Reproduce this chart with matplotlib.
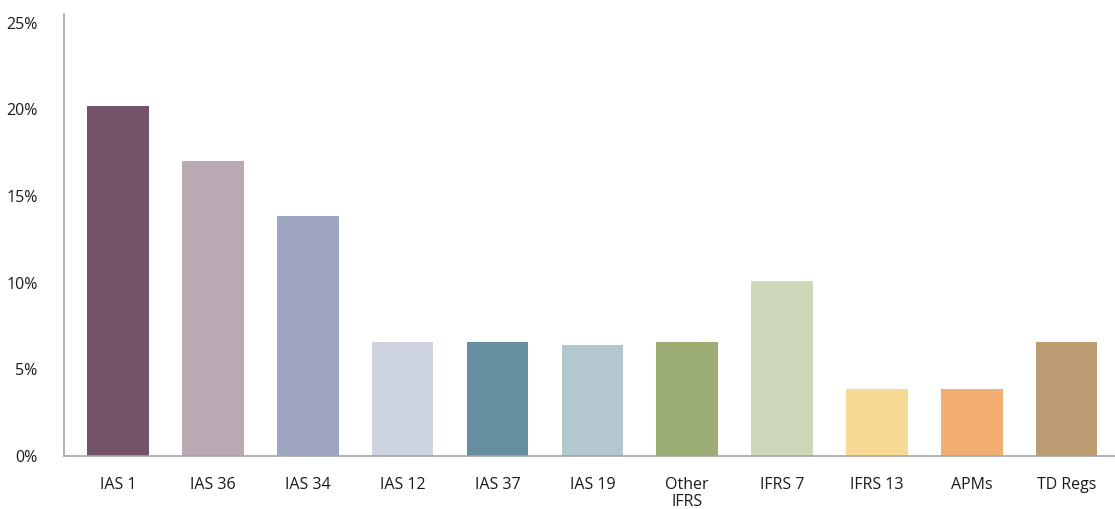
import matplotlib.pyplot as plt
import numpy as np

plt.rcParams['font.family'] = ['Open Sans', 'DejaVu Sans']

# standards and share of findings (%)
categories = ["IAS 1", "IAS 36", "IAS 34", "IAS 12", "IAS 37", "IAS 19",
              "Other\nIFRS", "IFRS 7", "IFRS 13", "APMs", "TD Regs"]
values = [20.2, 17.0, 13.85, 6.6, 6.6, 6.4, 6.6, 10.1, 3.87, 3.87, 6.6]
colors = ["#735368", "#b8a9b3", "#9ea6c4", "#cdd3e0", "#668fa2", "#b3c7cf",
          "#9bad72", "#ced8b9", "#f7da94", "#f2ad70", "#bc9c73"]
yticks = [0, 5, 10, 15, 20, 25]

fig = plt.figure(figsize=(11.15, 5.09), dpi=100)
ax = fig.add_axes([64/1115, 1-456/509, 1-64/1115, (456-14)/509])

x = np.arange(len(categories))
ax.bar(x, values, width=0.65, color=colors)

ax.set_xlim(-0.57, len(categories) - 0.49)
ax.set_ylim(0, 25.5)
ax.set_yticks(yticks)
ax.set_yticklabels([f"{t}%" for t in yticks])
ax.set_xticks(x)
ax.set_xticklabels(categories, va="top", linespacing=1.1)
ax.tick_params(axis="both", length=0, labelsize=11.5, colors="#1a1a1a")
ax.tick_params(axis="x", pad=15)
ax.tick_params(axis="y", pad=19)

for s in ["top", "right"]:
    ax.spines[s].set_visible(False)
for s in ["left", "bottom"]:
    ax.spines[s].set_color("#a6a6a6")
    ax.spines[s].set_linewidth(1.2)

fig.savefig("out.png", dpi=100)
